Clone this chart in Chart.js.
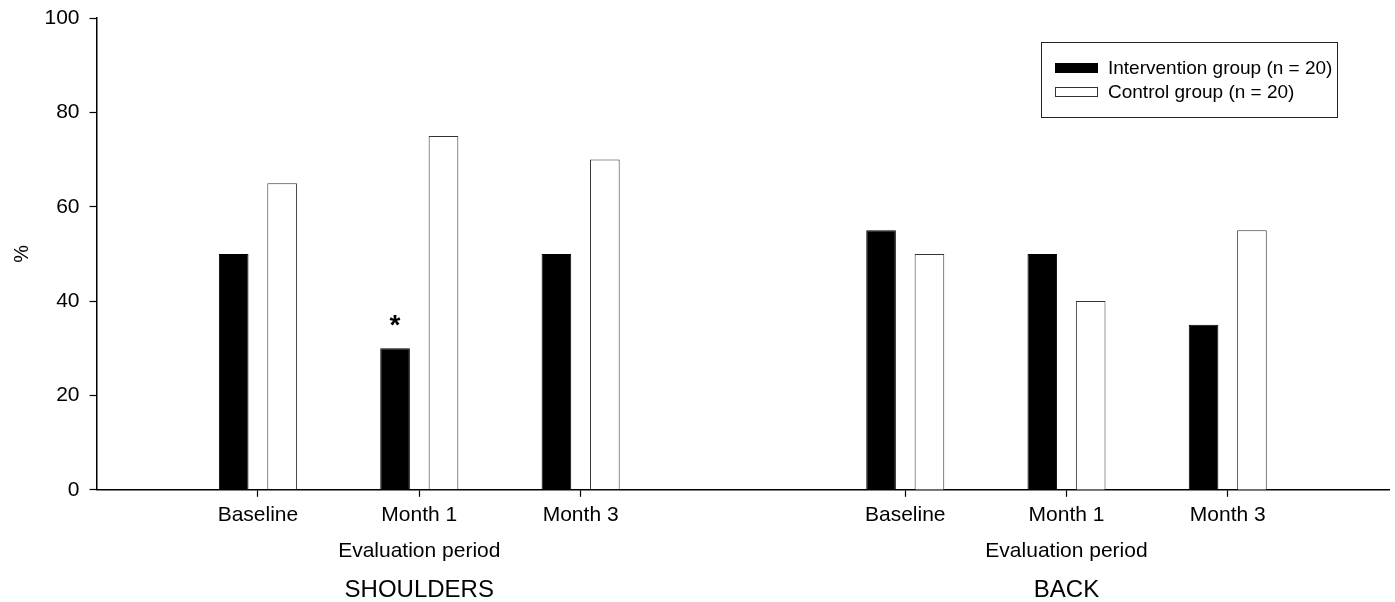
<!DOCTYPE html>
<html>
<head>
<meta charset="utf-8">
<title>Pain prevalence by evaluation period</title>
<script src="https://cdn.jsdelivr.net/npm/chart.js@4.4.1/dist/chart.umd.min.js"></script>
<style>
  html, body { margin: 0; padding: 0; background: #fff; }
  #wrap { position: relative; width: 1395px; height: 602px; overflow: hidden; background: #fff; }
  #leftPanel { position: absolute; left: 0; top: 0; }
  #rightPanel { position: absolute; left: 738px; top: 0; }
</style>
</head>
<body>
<div id="wrap">
  <canvas id="leftPanel" width="748" height="602"></canvas>
  <canvas id="rightPanel" width="657" height="602"></canvas>
</div>
<script>
// Categories and values (percent of participants reporting pain)
const periods = ['Baseline', 'Month 1', 'Month 3'];
const seriesNames = ['Intervention group (n = 20)', 'Control group (n = 20)'];
const shouldersIntervention = [50, 30, 50];
const shouldersControl = [65, 75, 70];
const backIntervention = [55, 50, 35];
const backControl = [50, 40, 55];
// Significance markers drawn above the intervention bars
const shouldersMarks = ['', '*', ''];
const backMarks = ['', '', ''];
const yTicks = [0, 20, 40, 60, 80, 100];
const panelTitles = ['SHOULDERS', 'BACK'];
const xTitle = 'Evaluation period';
const yTitle = '%';

const FAMILY = "'Liberation Sans', Arial, Helvetica, sans-serif";
Chart.defaults.color = '#000';
Chart.defaults.font.family = FAMILY;

// Each panel gets an empty slot before and after its three periods
const padded = arr => [null, ...arr, null];
const paddedLabels = ['', ...periods, ''];

// Legend drawn as a framed box inside the plot area
const boxLegend = {
  id: 'boxLegend',
  afterDraw(chart, args, opts) {
    if (!opts.show) return;
    const ctx = chart.ctx;
    const ca = chart.chartArea;
    const left = Math.round(ca.right - 348), top = Math.round(ca.top + 24), w = 296, h = 75;
    ctx.save();
    ctx.strokeStyle = '#222';
    ctx.lineWidth = 1;
    ctx.strokeRect(left + 0.5, top + 0.5, w, h);
    ctx.font = '19px ' + FAMILY;
    ctx.textBaseline = 'middle';
    ctx.textAlign = 'left';
    chart.data.datasets.forEach((ds, i) => {
      const cy = top + 26 + i * 24;
      ctx.fillStyle = ds.backgroundColor;
      ctx.fillRect(left + 14, cy - 5, 43, 10);
      ctx.strokeStyle = ds.borderColor;
      ctx.lineWidth = 1;
      ctx.strokeRect(left + 14.5, cy - 4.5, 42, 9);
      ctx.fillStyle = '#000';
      ctx.fillText(ds.label, left + 67, cy + 1);
    });
    ctx.restore();
  }
};

// Asterisks above bars that carry a marker
const barMarks = {
  id: 'barMarks',
  afterDatasetsDraw(chart) {
    const ctx = chart.ctx;
    ctx.save();
    ctx.font = 'bold 28px ' + FAMILY;
    ctx.fillStyle = '#000';
    ctx.textAlign = 'center';
    ctx.textBaseline = 'alphabetic';
    chart.data.datasets.forEach((ds, di) => {
      if (!ds.marks) return;
      const meta = chart.getDatasetMeta(di);
      ds.marks.forEach((m, i) => {
        if (!m) return;
        const el = meta.data[i];
        const tm = ctx.measureText(m);
        const glyphMid = (tm.actualBoundingBoxAscent - tm.actualBoundingBoxDescent) / 2;
        const centreY = el.y - 27.5;
        ctx.fillText(m, el.x, centreY + glyphMid);
      });
    });
    ctx.restore();
  }
};

function makePanel(id, title, intervention, control, marks, showY, showLegend) {
  return new Chart(document.getElementById(id), {
    type: 'bar',
    data: {
      labels: paddedLabels,
      datasets: [
        {
          label: seriesNames[0],
          data: padded(intervention),
          marks: ['', ...marks, ''],
          backgroundColor: '#000',
          borderColor: '#000',
          borderWidth: 1
        },
        {
          label: seriesNames[1],
          data: padded(control),
          backgroundColor: '#fff',
          borderColor: '#333',
          borderWidth: 1
        }
      ]
    },
    options: {
      responsive: false,
      animation: false,
      devicePixelRatio: 1,
      layout: { padding: { left: 0, right: showY ? 0 : 4, top: 18, bottom: 0 } },
      datasets: { bar: { categoryPercentage: 0.6003, barPercentage: 0.612 } },
      plugins: {
        legend: { display: false },
        tooltip: { enabled: false },
        title: {
          display: true,
          text: title,
          position: 'bottom',
          fullSize: false,
          color: '#000',
          font: { family: FAMILY, size: 24, weight: 'normal', lineHeight: 0.8 },
          padding: { top: 3, bottom: 2 }
        },
        boxLegend: { show: showLegend }
      },
      scales: {
        x: {
          type: 'category',
          offset: false,
          grid: {
            offset: false,
            drawOnChartArea: false,
            tickLength: 7,
            tickWidth: 1.2,
            tickColor: c => (paddedLabels[c.index] ? '#000' : 'rgba(0,0,0,0)')
          },
          border: { color: '#000', width: 1.5 },
          ticks: { color: '#000', font: { family: FAMILY, size: 21 }, padding: 6, maxRotation: 0, autoSkip: false },
          title: {
            display: true,
            text: xTitle,
            color: '#000',
            font: { family: FAMILY, size: 21 },
            padding: { top: 4.6, bottom: 14 }
          }
        },
        y: {
          display: showY,
          min: 0,
          max: 100,
          afterBuildTicks: s => { s.ticks = yTicks.map(v => ({ value: v })); },
          grid: { drawOnChartArea: false, tickLength: 7, tickWidth: 1.2, tickColor: '#000' },
          border: { color: '#000', width: 1.5 },
          ticks: { color: '#000', font: { family: FAMILY, size: 21, lineHeight: 0.6 }, padding: 10 },
          title: {
            display: true,
            text: yTitle,
            color: '#000',
            font: { family: FAMILY, size: 20 },
            padding: { top: 10, bottom: 0.5 }
          }
        }
      }
    },
    plugins: [boxLegend, barMarks]
  });
}

makePanel('leftPanel', panelTitles[0], shouldersIntervention, shouldersControl, shouldersMarks, true, false);
makePanel('rightPanel', panelTitles[1], backIntervention, backControl, backMarks, false, true);
</script>
</body>
</html>
